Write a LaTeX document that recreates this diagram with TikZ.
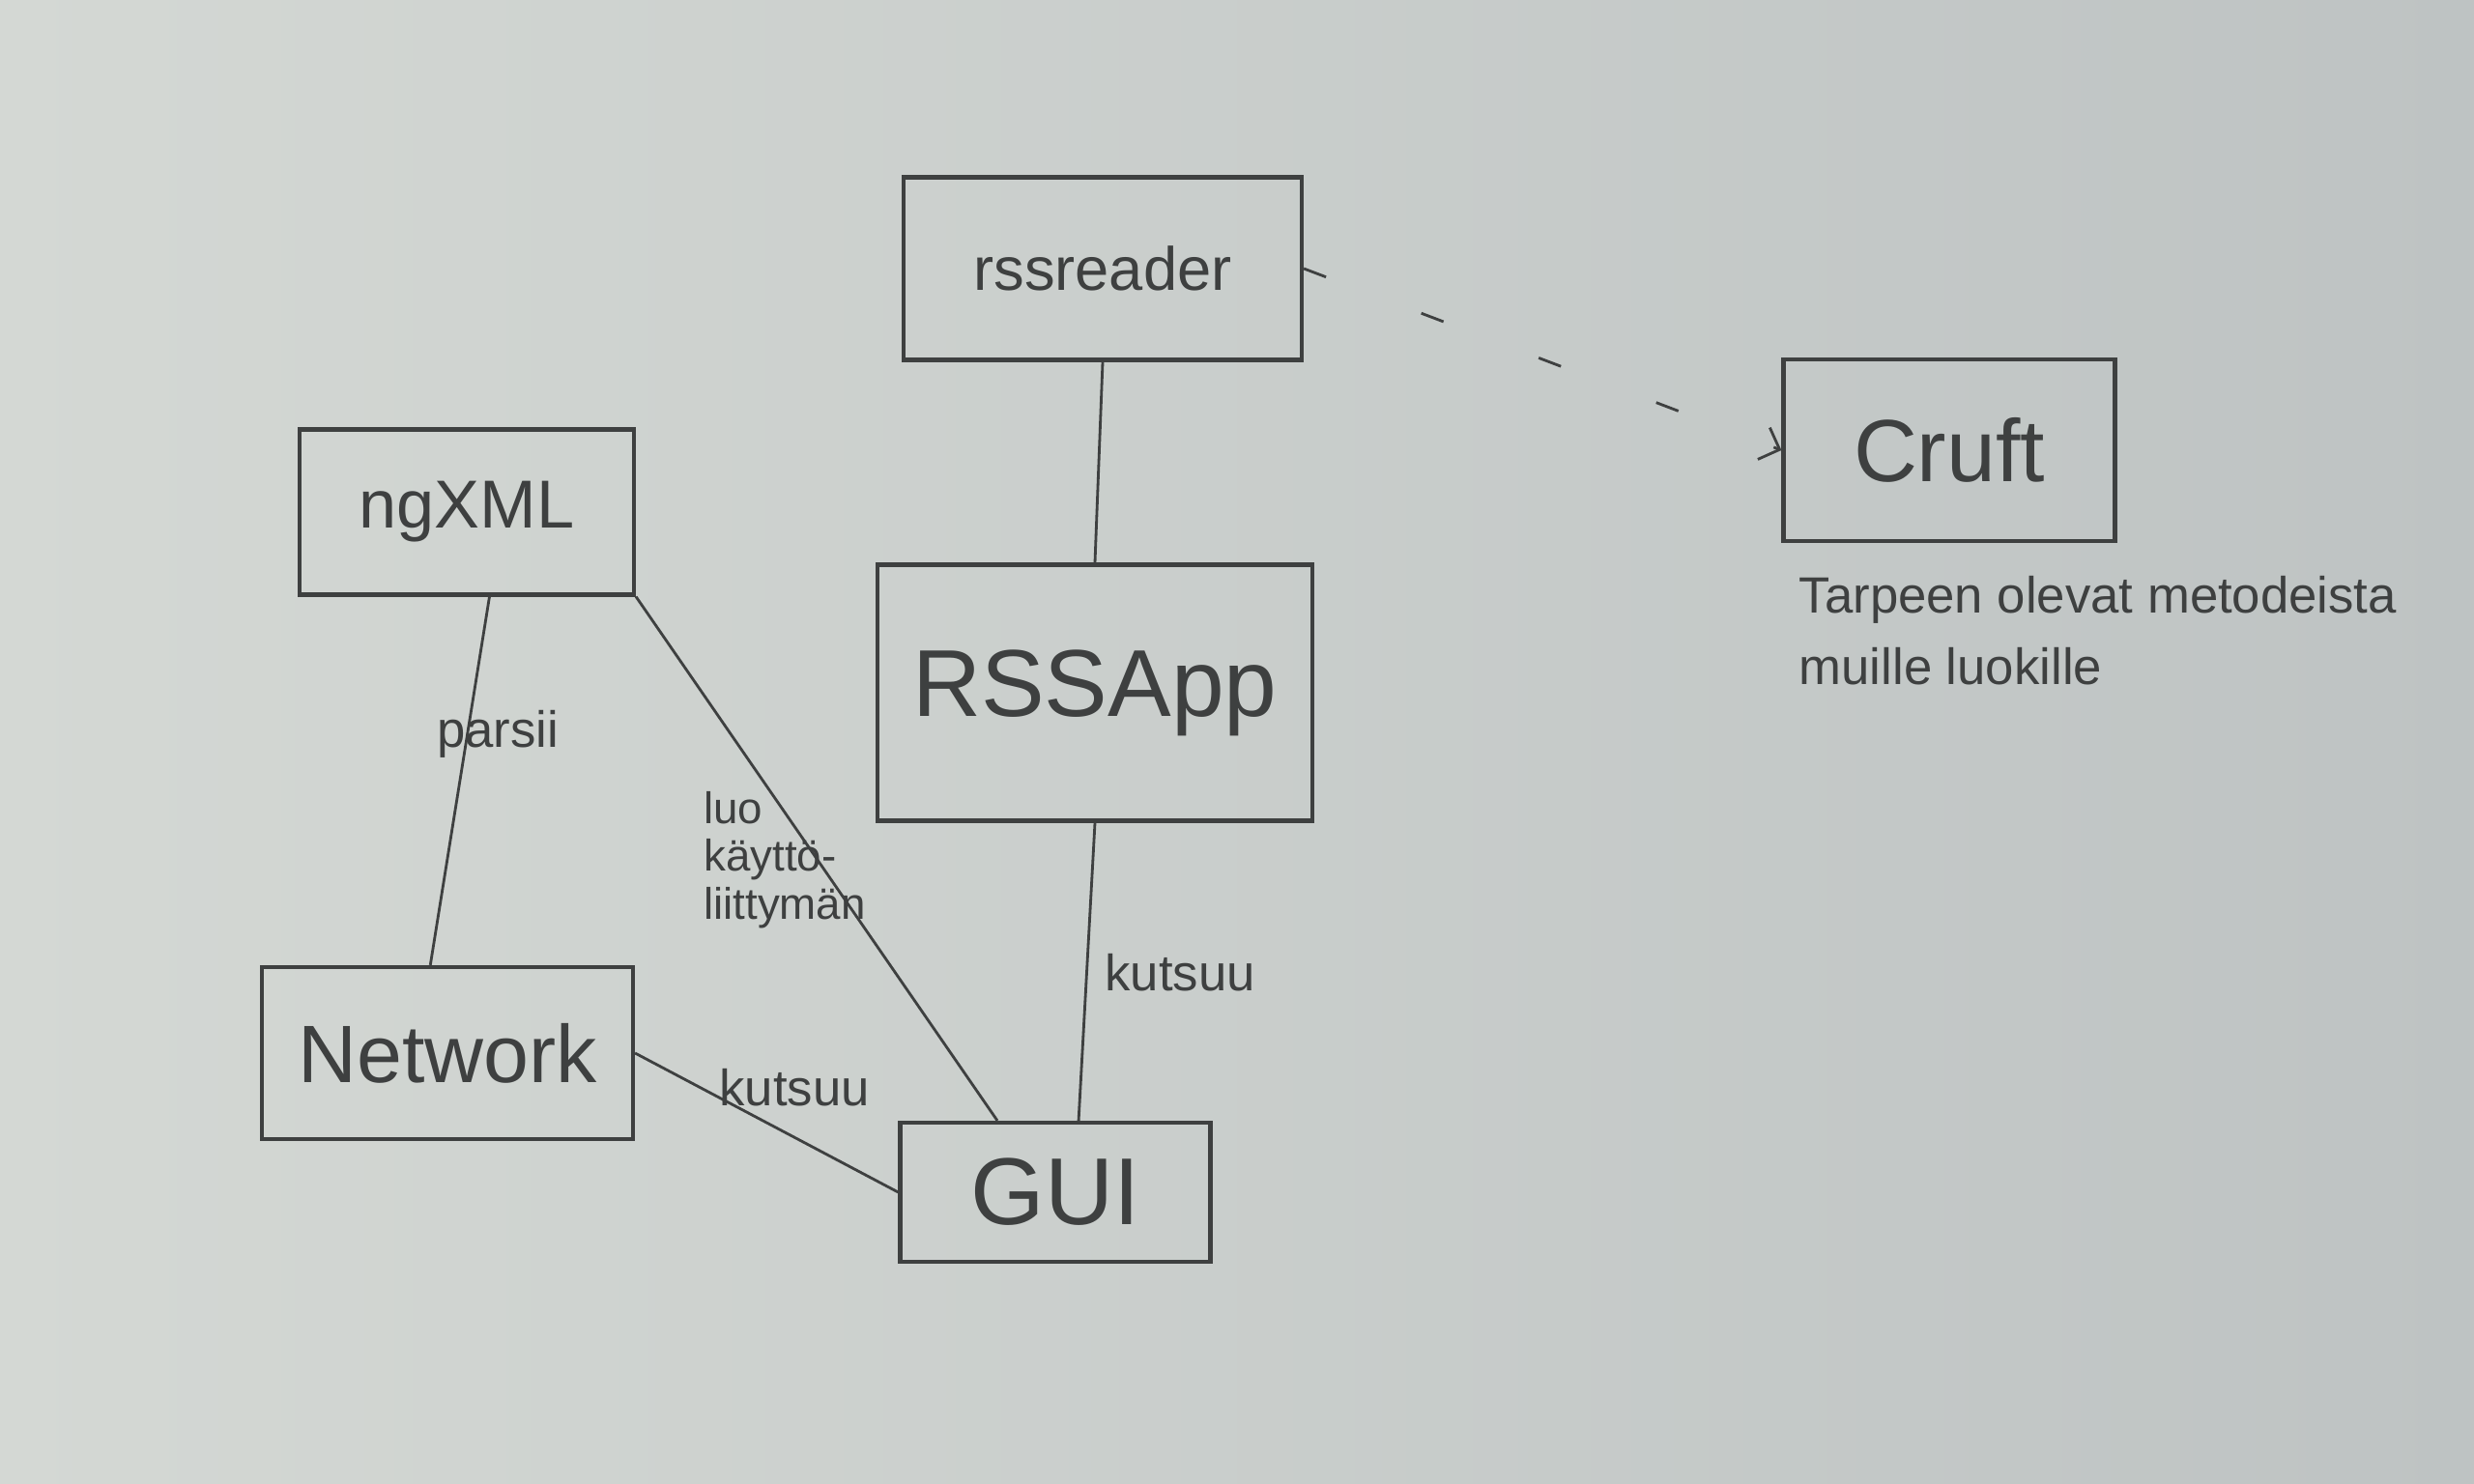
\documentclass[tikz,border=0pt]{standalone}
\usepackage{fontspec}
\setmainfont{Liberation Sans}
\usetikzlibrary{positioning, arrows.meta}
\definecolor{paper}{RGB}{212,216,212}
\definecolor{paperdark}{RGB}{190,195,195}
\definecolor{pencil}{RGB}{62,64,64}

\begin{document}
\begin{tikzpicture}[
          box/.style={draw=pencil, line width=1.2pt, minimum width=#1, align=center,
                      text=pencil},
          lnk/.style={draw=pencil, line width=0.8pt},
          lbl/.style={text=pencil, font=\fontsize{15}{15}\selectfont, inner sep=0pt}]
        \shade[left color=paper, right color=paperdark] (0,0) rectangle (25.6,15.36);
        \useasboundingbox (0,0) rectangle (25.6,15.36);
        % classes
        \node[box=4.12cm, minimum height=1.89cm, font=\fontsize{18}{18}\selectfont]
          (reader) at (11.41,12.58) {rssreader};
        \node[box=3.46cm, minimum height=1.71cm, font=\fontsize{20}{20}\selectfont]
          (ngxml) at (4.83,10.06) {ngXML};
        \node[box=4.50cm, minimum height=2.65cm, font=\fontsize{28}{28}\selectfont]
          (app) at (11.33,8.19) {RSSApp};
        \node[box=3.84cm, minimum height=1.78cm, font=\fontsize{24}{24}\selectfont]
          (net) at (4.63,4.46) {Network};
        \node[box=3.21cm, minimum height=1.44cm, font=\fontsize{28}{28}\selectfont]
          (gui) at (10.92,3.02) {GUI};
        \node[box=3.43cm, minimum height=1.88cm, font=\fontsize{26}{26}\selectfont]
          (cruft) at (20.17,10.70) {Cruft};
        \node[anchor=north west, align=left, inner sep=0pt, text=pencil,
              font=\fontsize{15}{21}\selectfont]
          (note) at (18.61,9.40) {Tarpeen olevat metodeista\\muille luokille};
        % links
        \draw[lnk] (reader.south) -- (app.north);
        \draw[lnk] (ngxml.-75) -- (net.101);
        \draw[lnk] (ngxml.south east) -- (gui.129);
        \draw[lnk] (app.south) -- (gui.72);
        \draw[lnk] (net.east) -- (gui.west);
        \draw[lnk, dash pattern={on 7pt off 30pt}, -{Straight Barb[length=5pt]}]
          (reader.east) -- (cruft.west);
        % link labels
        \node[lbl] (parse) at (5.15,7.76) {parsii};
        \node[lbl, align=left, font=\fontsize{13}{14}\selectfont]
          (make) at (8.12,6.46) {luo\\käyttö-\\liittymän};
        \node[lbl] (call1) at (12.21,5.29) {kutsuu};
        \node[lbl] (call2) at (8.22,4.10) {kutsuu};
      \end{tikzpicture}
\end{document}
